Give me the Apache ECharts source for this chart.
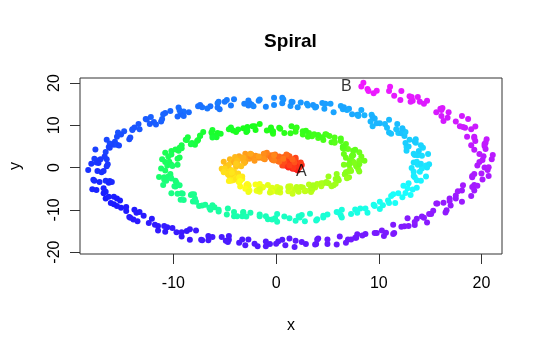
<!DOCTYPE html>
<html>
<head>
<meta charset="utf-8">
<title>Spiral</title>
<script src="https://cdn.jsdelivr.net/npm/echarts@6.0.0/dist/echarts.min.js"></script>
<style>
  html, body { margin: 0; padding: 0; background: #fff; }
  #chart { width: 546px; height: 353px; }
</style>
</head>
<body>
<div id="chart"></div>
<script>
// points, two lists per turn of the spiral, each in order from A towards B
const turn1 = [
  [1.9,-0.4],[1.3,0.4],[2.2,0.3],[1.6,-0.3],[1.8,1.0],[1.1,0.3],[2.1,1.0],[1.5,0.8],[2.2,0.5],
  [1.2,0.4],[1.7,1.2],[1.4,1.0],[1.9,1.9],[0.8,1.7],[1.7,0.7],[1.0,1.1],[1.2,2.0],[1.7,1.7],
  [0.6,2.4],[1.2,1.7],[0.8,2.5],[1.2,1.5],[0.2,2.0],[1.2,2.5],[-0.3,1.8],[0.4,1.9],[-0.1,3.1],
  [0.4,2.2],[-0.5,2.5],[-0.2,3.0],[-0.2,2.1],[-1.0,2.8],[-0.3,2.7],[-1.1,2.0],[-1.1,3.3],[-2.0,2.5],
  [-1.2,3.1],[-2.0,2.8],[-1.4,2.3],[-2.6,2.1],[-2.3,2.7],[-2.7,2.4],[-2.4,3.1],[-3.6,2.7],[-3.0,1.4],
  [-3.8,1.6],[-3.6,2.2],[-3.2,1.6],[-4.5,2.0],[-3.9,1.0],[-4.3,1.5],[-3.9,0.2],[-4.8,0.4],[-3.7,0.6],
  [-5.2,-0.4],[-4.4,-0.6],[-4.7,0.3],[-4.1,-0.9],[-4.9,-1.0],[-4.4,-0.7],[-4.2,-2.0],[-4.7,-1.6],[-3.7,-2.0],
  [-4.2,-3.0],[-3.9,-2.0],[-4.4,-3.1],[-3.3,-2.7],[-3.7,-3.2],[-2.7,-4.1],[-3.5,-4.5],[-2.8,-3.9],[-2.7,-4.4],
  [-2.0,-4.0],[-2.7,-4.3],[-1.6,-5.7],[-1.9,-5.5],[-1.4,-4.7],[-0.5,-5.2],[-1.3,-4.6],[-0.4,-5.5],[-0.4,-4.8],
  [0.4,-5.9],[-0.1,-5.4],[1.3,-5.0],[0.1,-5.7],[1.2,-5.6],[1.2,-4.5],[2.1,-5.4],[1.6,-5.2],[2.4,-4.6],
  [2.9,-5.5],[2.6,-4.7],[3.8,-4.7],[3.5,-5.3],[4.0,-3.9],[3.6,-4.6],[4.9,-3.6],[4.6,-3.7],[5.8,-3.8],
  [5.1,-3.7],[5.8,-2.7],[5.9,-2.7],[6.7,-1.6],[5.9,-1.5],[7.1,-2.3],[6.7,-1.6],[7.2,-0.4],[8.0,-0.4]
];
const turn1b = [
  [1.0,0.5],[2.1,-0.7],[1.6,1.1],[2.5,0.6],[1.2,0.0],[1.9,1.1],[0.8,0.5],[2.3,0.1],[1.3,1.0],
  [1.7,-0.1],[1.0,1.8],[2.4,1.2],[1.3,0.5],[1.9,2.3],[0.6,0.5],[1.6,1.9],[0.8,1.3],[1.8,1.2],
  [1.1,2.9],[-0.1,2.1],[1.3,2.7],[0.2,1.5],[1.6,1.9],[0.3,2.6],[1.0,3.1],[-0.5,2.3],[0.3,1.4],
  [-0.5,2.9],[0.7,2.1],[-0.4,1.9],[-1.1,3.0],[-0.2,1.7],[-0.9,3.5],[-0.2,2.9],[-1.7,2.3],[-1.2,3.3],
  [-2.5,2.6],[-1.2,2.1],[-2.3,2.8],[-2.1,1.6],[-3.0,3.3],[-1.7,2.6],[-3.0,1.7],[-2.5,3.3],[-4.1,1.2],
  [-3.2,2.4],[-4.0,1.5],[-3.1,1.1],[-4.0,2.5],[-5.1,1.4],[-3.8,1.7],[-4.9,0.2],[-3.4,0.3],[-4.6,0.7],
  [-3.9,0.9],[-5.3,-0.3],[-4.3,-1.4],[-5.0,-0.2],[-3.7,-1.4],[-4.6,-1.8],[-5.1,-1.1],[-3.9,-2.7],[-4.3,-1.2],
  [-3.3,-2.1],[-4.5,-3.0],[-3.6,-2.3],[-4.6,-3.2],[-2.9,-4.2],[-3.6,-3.5],[-3.0,-5.0],[-3.5,-3.2],[-1.7,-4.3],
  [-2.6,-5.4],[-1.6,-3.9],[-2.7,-5.8],[-1.3,-4.7],[-1.8,-5.4],[-0.4,-5.7],[-0.8,-4.1],[-1.6,-5.1],[0.1,-4.6],
  [-0.6,-5.9],[1.3,-5.5],[0.4,-4.9],[1.4,-4.4],[0.3,-5.3],[1.6,-6.2],[1.2,-4.7],[2.8,-5.6],[2.2,-5.7],
  [2.0,-4.6],[3.4,-5.8],[3.2,-4.0],[4.4,-4.4],[3.4,-4.9],[4.4,-3.7],[3.6,-4.2],[5.4,-4.4],[4.9,-3.4],
  [5.6,-4.2],[5.1,-2.1],[6.9,-2.5],[6.1,-3.0],[7.0,-0.9],[6.0,-2.5],[7.3,-0.8],[6.8,-1.1],[8.1,-0.9]
];
const turn2 = [
  [7.1,0.6],[7.8,0.3],[7.5,1.4],[8.1,0.8],[7.2,1.7],[8.3,2.6],[6.8,2.3],[7.5,2.9],[7.0,4.4],
  [7.5,4.0],[6.5,4.6],[6.8,5.6],[6.6,5.0],[5.7,6.1],[6.3,6.3],[5.4,6.0],[5.2,7.5],[4.1,7.0],
  [4.8,7.9],[3.7,7.9],[4.1,7.7],[2.6,7.8],[2.6,8.6],[1.9,8.5],[2.0,9.5],[0.4,9.2],[0.8,8.2],
  [-0.3,8.6],[-0.5,9.5],[-0.5,9.1],[-2.1,9.8],[-2.0,8.9],[-2.8,9.6],[-2.9,8.4],[-4.2,8.8],[-3.7,9.0],
  [-5.7,8.2],[-5.4,8.0],[-6.2,8.9],[-6.2,7.7],[-7.4,7.5],[-7.4,7.6],[-7.7,6.3],[-8.7,6.5],[-8.2,5.8],
  [-9.2,4.6],[-9.2,5.3],[-10.2,3.9],[-9.5,4.0],[-10.2,3.1],[-9.6,2.1],[-10.8,1.3],[-10.4,1.4],[-10.6,0.5],
  [-10.2,0.7],[-11.2,-0.2],[-10.3,-2.0],[-10.9,-2.3],[-10.5,-2.1],[-9.8,-3.1],[-10.7,-3.1],[-9.8,-4.5],[-9.9,-4.4],
  [-9.2,-6.1],[-9.6,-6.2],[-8.2,-6.3],[-9.3,-7.6],[-8.1,-8.0],[-7.9,-7.4],[-6.9,-8.8],[-7.2,-9.0],[-6.2,-8.9],
  [-5.6,-10.4],[-5.6,-10.0],[-4.1,-10.5],[-4.1,-11.5],[-3.2,-10.5],[-3.3,-11.5],[-1.6,-11.1],[-1.6,-11.5],[-0.1,-12.0],
  [-0.4,-12.3],[0.8,-11.6],[1.3,-12.0],[2.5,-11.2],[2.2,-11.5],[3.9,-12.5],[4.0,-12.2],[5.0,-11.1],[6.3,-11.3],
  [5.9,-10.5],[7.3,-11.0],[7.7,-9.9],[8.9,-10.7],[8.7,-9.7],[10.4,-8.9],[9.6,-9.1],[11.0,-8.4],[11.2,-6.7],
  [12.3,-7.0],[11.9,-6.1],[12.8,-4.9],[13.3,-5.2],[12.9,-3.7],[14.1,-3.1],[13.7,-3.0],[14.0,-1.0],[13.4,-1.0]
];
const turn2b = [
  [7.6,1.1],[6.6,0.7],[8.1,1.6],[7.1,0.8],[8.6,1.6],[7.4,2.7],[8.1,3.6],[6.6,3.2],[7.4,2.8],
  [6.6,4.7],[7.7,4.2],[6.6,4.5],[5.7,5.9],[6.5,5.0],[5.7,7.1],[6.3,6.9],[4.6,6.5],[4.9,7.8],
  [3.5,7.4],[4.5,7.2],[3.2,8.2],[3.1,7.3],[1.9,9.2],[2.9,8.7],[1.4,8.1],[1.5,9.8],[-0.3,8.0],
  [0.3,9.4],[-0.9,8.8],[-0.4,8.6],[-1.6,10.3],[-3.2,9.3],[-2.3,9.8],[-3.9,8.4],[-2.8,8.7],[-4.6,9.1],
  [-4.4,9.5],[-6.3,8.3],[-5.8,7.2],[-7.1,8.4],[-6.2,7.1],[-7.6,6.5],[-8.6,7.2],[-7.9,5.4],[-8.8,6.6],
  [-8.3,5.5],[-9.8,4.3],[-9.4,4.7],[-10.8,3.5],[-9.4,2.4],[-10.5,2.6],[-10.3,0.8],[-11.1,2.0],[-9.6,0.7],
  [-10.8,-0.7],[-10.1,0.4],[-11.4,-2.2],[-10.3,-1.5],[-10.9,-2.8],[-9.7,-3.6],[-10.2,-2.6],[-11.0,-4.1],[-9.4,-4.2],
  [-10.2,-6.1],[-8.3,-6.5],[-9.1,-6.2],[-8.0,-6.3],[-9.0,-7.7],[-7.5,-9.1],[-7.8,-8.1],[-6.0,-9.4],[-6.4,-10.0],
  [-6.5,-9.5],[-4.8,-11.1],[-4.7,-9.7],[-3.2,-10.6],[-3.8,-11.5],[-2.5,-10.7],[-2.9,-11.6],[-0.8,-12.2],[-1.0,-11.5],
  [0.1,-12.8],[0.1,-11.0],[2.3,-11.8],[1.9,-12.6],[3.3,-10.9],[2.8,-12.7],[4.6,-11.4],[4.6,-11.8],[6.4,-11.8],
  [6.4,-10.0],[6.1,-10.6],[8.2,-9.7],[7.9,-10.7],[10.1,-9.8],[9.5,-8.8],[10.9,-7.8],[10.1,-8.1],[11.6,-8.4],
  [11.4,-6.3],[13.1,-6.5],[12.6,-6.0],[12.4,-4.3],[13.7,-4.8],[13.5,-2.3],[14.6,-2.1],[13.4,-2.0],[14.2,-0.2]
];
const turn3 = [
  [14.6,0.5],[13.8,0.7],[14.9,0.8],[13.4,1.2],[14.2,2.8],[13.8,2.9],[14.3,4.7],[12.7,4.9],
  [13.9,3.9],[12.9,5.0],[13.0,6.6],[13.6,6.7],[11.9,8.2],[12.5,7.5],[11.7,9.1],[12.2,8.1],
  [10.8,9.4],[11.8,10.3],[9.4,9.8],[10.1,10.5],[9.3,12.5],[9.6,11.6],[8.0,12.5],[8.3,13.6],
  [7.9,12.5],[6.5,13.8],[7.1,13.9],[5.6,13.1],[5.3,15.1],[3.8,14.2],[4.5,15.3],[3.0,15.1],
  [3.6,14.8],[1.4,14.6],[1.5,15.6],[0.6,15.2],[0.6,16.5],[-1.6,16.1],[-1.0,14.4],[-2.4,14.9],
  [-2.7,15.9],[-2.6,15.2],[-4.8,16.0],[-4.4,14.7],[-5.6,15.6],[-5.5,13.8],[-7.2,14.3],[-6.4,14.5],
  [-9.0,13.3],[-8.5,13.1],[-9.5,14.2],[-9.3,12.6],[-11.0,12.6],[-10.8,12.9],[-11.2,10.9],[-12.6,11.4],
  [-11.9,10.8],[-13.3,9.1],[-13.4,10.3],[-14.8,8.6],[-14.0,8.9],[-15.1,7.8],[-14.3,6.7],[-16.2,5.7],
  [-15.7,6.1],[-16.3,4.9],[-15.8,5.4],[-17.6,4.3],[-16.5,2.0],[-17.4,1.7],[-17.1,2.0],[-16.4,0.8],
  [-18.0,0.9],[-17.0,-1.1],[-17.4,-0.8],[-16.6,-3.1],[-17.7,-3.1],[-16.0,-3.4],[-17.9,-5.1],[-16.6,-5.7],
  [-16.8,-4.9],[-15.8,-6.9],[-16.6,-7.3],[-15.5,-7.3],[-15.1,-9.5],[-15.5,-9.1],[-13.8,-10.0],[-14.3,-11.7],
  [-13.6,-10.7],[-13.9,-12.3],[-12.1,-12.1],[-12.4,-13.1],[-10.6,-14.1],[-11.5,-14.9],[-10.1,-14.3],[-9.7,-15.3],
  [-8.4,-14.6],[-9.2,-15.3],[-7.2,-17.2],[-7.3,-17.1],[-6.2,-16.4],[-4.6,-17.1],[-5.3,-16.4],[-3.6,-17.8],
  [-3.3,-17.0],[-1.8,-18.6],[-2.1,-18.0],[0.2,-17.5],[-1.0,-18.6],[0.9,-18.4],[1.3,-16.8],[2.9,-18.1],
  [2.5,-17.6],[4.1,-16.8],[5.0,-18.1],[5.0,-17.0],[7.0,-17.0],[6.8,-17.8],[7.9,-15.8],[7.7,-16.6],
  [9.8,-15.5],[9.6,-15.5],[11.5,-15.5],[10.7,-15.4],[12.2,-14.0],[12.5,-13.9],[13.7,-12.1],[12.8,-12.0],
  [14.7,-13.0],[14.4,-11.9],[15.3,-10.2],[16.6,-10.1],[15.6,-8.5],[17.0,-9.0],[16.9,-7.3],[18.1,-8.1],
  [17.5,-6.6],[19.3,-5.4],[17.7,-5.6],[19.1,-4.6],[19.1,-2.3],[20.1,-2.8],[19.3,-1.5],[20.3,0.0]
];
const turn3b = [
  [13.2,-0.1],[14.7,0.0],[13.7,1.4],[14.1,0.9],[13.4,3.3],[14.8,3.2],[13.5,3.0],[14.1,5.3],
  [12.7,4.0],[13.6,5.9],[12.6,5.8],[13.5,6.2],[12.6,8.4],[11.2,8.0],[12.3,9.1],[11.0,8.3],
  [12.3,9.3],[10.6,10.3],[11.0,11.3],[9.2,10.9],[9.8,10.5],[8.6,12.4],[9.4,12.0],[8.0,12.2],
  [6.9,13.6],[7.4,12.6],[6.3,14.6],[6.6,14.3],[4.7,13.9],[4.8,15.1],[3.1,14.7],[3.9,14.4],
  [2.4,15.4],[2.1,14.3],[0.7,16.1],[1.6,15.5],[-0.2,14.8],[-0.2,16.5],[-2.2,14.5],[-1.7,15.8],
  [-3.1,15.1],[-2.7,14.7],[-4.1,16.2],[-5.7,15.2],[-5.0,15.6],[-6.7,14.0],[-5.7,14.2],[-7.6,14.5],
  [-7.4,14.8],[-9.4,13.5],[-9.0,12.2],[-10.3,13.4],[-9.6,12.1],[-11.1,11.5],[-12.2,12.0],[-11.7,10.2],
  [-12.7,11.5],[-12.3,10.3],[-14.0,9.1],[-13.8,9.5],[-15.4,8.3],[-14.2,7.1],[-15.5,7.3],[-15.5,5.4],
  [-16.5,6.6],[-15.3,5.2],[-16.6,3.7],[-16.2,4.7],[-17.7,2.1],[-16.7,2.6],[-17.5,1.2],[-16.5,0.3],
  [-17.3,1.1],[-18.3,-0.6],[-16.8,-0.8],[-17.8,-2.9],[-16.2,-3.2],[-17.2,-3.4],[-16.3,-3.6],[-17.5,-5.3],
  [-16.3,-6.9],[-16.8,-6.1],[-15.2,-7.8],[-15.8,-8.7],[-16.1,-8.4],[-14.6,-10.3],[-14.6,-9.3],[-13.3,-10.5],
  [-14.2,-11.9],[-12.9,-11.4],[-13.5,-12.7],[-11.5,-13.8],[-11.8,-13.5],[-10.8,-15.2],[-10.9,-13.8],[-8.7,-15.0],
  [-9.2,-16.3],[-7.8,-14.9],[-8.4,-17.1],[-6.6,-16.2],[-6.6,-17.2],[-4.7,-17.6],[-4.6,-16.2],[-4.9,-17.3],
  [-2.7,-17.0],[-3.0,-18.4],[-0.6,-18.1],[-1.0,-17.5],[0.6,-17.1],[0.0,-18.0],[1.8,-18.8],[1.9,-17.3],
  [3.9,-18.1],[3.8,-18.2],[4.0,-17.0],[5.9,-18.2],[6.2,-16.3],[7.8,-16.6],[7.3,-17.0],[8.7,-15.7],
  [8.4,-16.1],[10.5,-16.2],[10.3,-14.9],[11.4,-15.7],[11.4,-13.5],[13.5,-13.6],[12.9,-13.8],[14.2,-11.6],
  [13.5,-12.9],[15.1,-11.0],[14.9,-11.0],[16.5,-10.6],[16.3,-8.3],[15.7,-8.5],[17.5,-7.3],[16.9,-7.9],
  [19.0,-6.7],[18.1,-5.4],[19.3,-4.1],[18.2,-4.2],[19.6,-4.3],[19.1,-2.0],[20.7,-2.0],[20.0,-1.4]
];
const turn4 = [
  [20.6,-0.6],[19.8,1.3],[21.0,2.0],[20.1,1.8],[20.4,4.4],[19.3,4.2],[20.4,5.9],[19.4,6.3],
  [20.5,6.7],[18.6,7.3],[19.0,9.1],[18.4,9.4],[18.7,11.5],[16.7,11.8],[17.5,10.9],[16.1,12.2],
  [16.0,13.9],[16.2,14.1],[14.0,15.6],[14.4,15.1],[13.2,16.7],[13.3,15.8],[11.5,17.0],[12.2,18.1],
  [9.5,17.6],[9.8,18.2],[8.5,20.1],[8.3,19.2]
];
const turn4b = [
  [19.6,0.5],[20.7,0.1],[20.2,2.7],[21.1,3.0],[19.8,3.2],[20.3,5.1],[19.0,5.3],[20.3,5.6],
  [19.3,7.3],[19.3,7.0],[18.2,9.6],[19.4,9.7],[17.9,9.8],[18.1,12.2],[16.3,11.0],[16.8,13.1],
  [15.6,13.1],[16.1,13.6],[14.7,15.8],[13.1,15.6],[13.8,16.7],[12.1,16.0],[13.0,16.9],[11.0,18.1],
  [11.1,19.1],[8.9,18.6],[9.0,18.1]
];
// text marks at the two ends
const endLabels = [
  { name: 'A', value: [2.46, -1.0] },
  { name: 'B', value: [6.83, 19.25] }
];
const xTicks = [-10, 0, 10, 20];
const yTicks = [-20, -10, 0, 10, 20];

(function () {
  const myChart = echarts.init(document.getElementById('chart'));

  // rainbow colour along the spiral: red at A ... magenta at B
  const turns = [
    [turn1, 0, 360], [turn1b, 0, 360],
    [turn2, 360, 720], [turn2b, 360, 720],
    [turn3, 720, 1080], [turn3b, 720, 1080],
    [turn4, 1080, 1147], [turn4b, 1080, 1147]
  ];
  const points = [];
  turns.forEach(function (t) {
    const list = t[0];
    list.forEach(function (p, i) {
      const a = t[1] + (t[2] - t[1]) * i / list.length;
      const hue = (a / 1147 * 297).toFixed(1);
      points.push({ value: p, itemStyle: { color: 'hsl(' + hue + ',100%,55%)' } });
    });
  });

  const font = 'Liberation Sans, Arial, Helvetica, sans-serif';

  const option = {
    animation: false,
    textStyle: { fontFamily: font },
    graphic: [{
      type: 'text',
      x: 290.5,
      y: 42,
      style: {
        text: 'Spiral',
        font: 'bold 19px "Liberation Sans", Arial, sans-serif',
        fill: '#000',
        align: 'center',
        verticalAlign: 'middle',
        textAlign: 'center',
        textVerticalAlign: 'middle'
      }
    }],
    grid: {
      left: 79,
      right: 44,
      top: 78,
      bottom: 99,
      show: true,
      borderColor: '#333',
      borderWidth: 1
    },
    xAxis: {
      type: 'value',
      min: -19.1,
      max: 22.0,
      name: 'x',
      nameLocation: 'middle',
      nameGap: 64,
      nameTextStyle: { fontSize: 16, color: '#000', fontFamily: font },
      splitLine: { show: false },
      axisLine: { show: false, onZero: false },
      axisTick: { show: true, length: 10, customValues: xTicks, lineStyle: { color: '#333' } },
      axisLabel: { customValues: xTicks, fontSize: 16, color: '#000', margin: 22, fontFamily: font }
    },
    yAxis: {
      type: 'value',
      min: -20.45,
      max: 21.2,
      name: 'y',
      nameLocation: 'middle',
      nameRotate: 90,
      nameGap: 56,
      nameTextStyle: { fontSize: 16, color: '#000', fontFamily: font },
      splitLine: { show: false },
      axisLine: { show: false, onZero: false },
      axisTick: { show: true, length: 10, customValues: yTicks, lineStyle: { color: '#333' } },
      axisLabel: { customValues: yTicks, rotate: 90, fontSize: 16, color: '#000', margin: 17, fontFamily: font }
    },
    series: [
      {
        type: 'scatter',
        data: points,
        symbol: 'circle',
        symbolSize: 6,
        itemStyle: { opacity: 1 }
      },
      {
        type: 'scatter',
        data: endLabels,
        symbolSize: 1,
        itemStyle: { color: 'rgba(0,0,0,0)' },
        label: {
          show: true,
          position: 'inside',
          formatter: '{b}',
          fontSize: 16,
          color: '#000',
          fontFamily: font
        }
      }
    ]
  };

  myChart.setOption(option);

  window.addEventListener('resize', function () {
    myChart.resize();
  });
})();
</script>
</body>
</html>
